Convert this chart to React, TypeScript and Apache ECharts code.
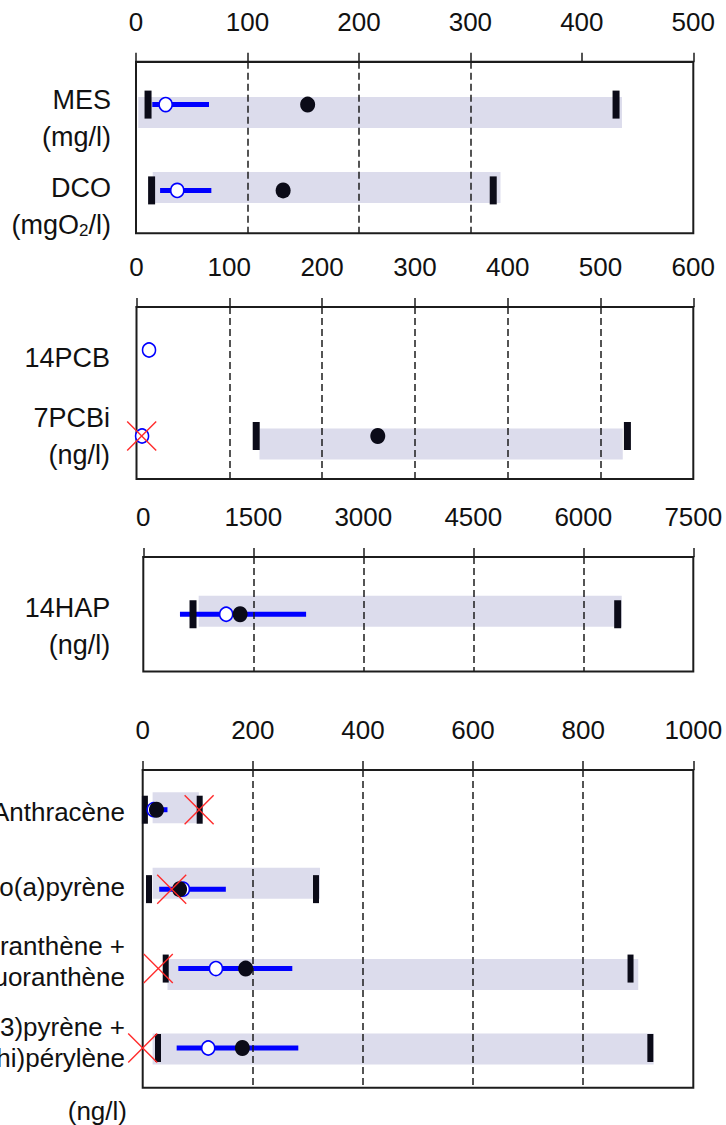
import React, { useEffect, useRef } from "react";
import * as echarts from "echarts";

// ---------------- Panel 1 : MES / DCO (0 – 500) ----------------
const p1Categories = ["MES\n(mg/l)", "DCO\n(mgO_2/l)"];
const p1Ticks = [0, 100, 200, 300, 400, 500];
const p1Dashed = [100, 200, 300];
const p1RangeLow = [2, 15];
const p1RangeHigh = [436, 327];
const p1CapLow = [10.8, 14];
const p1CapHigh = [430.7, 320.5];
const p1BlueLow = [14.6, 21.6];
const p1BlueHigh = [65.5, 67.6];
const p1BlueMedian = [26.6, 37];
const p1Black = [154, 132];
const p1Red: (number | null)[] = [null, null];

// ---------------- Panel 2 : PCB (0 – 600) ----------------
const p2Categories = ["14PCB", "7PCBi\n(ng/l)"];
const p2Ticks = [0, 100, 200, 300, 400, 500, 600];
const p2Dashed = [100, 200, 300, 400, 500];
const p2RangeLow = [null, 132.5];
const p2RangeHigh = [null, 524];
const p2CapLow = [null, 129];
const p2CapHigh = [null, 529];
const p2BlueLow = [null, null];
const p2BlueHigh = [null, null];
const p2BlueMedian = [13.5, 6];
const p2Black = [null, 260];
const p2Red = [null, 5.6];

// ---------------- Panel 3 : 14HAP (0 – 7500) ----------------
const p3Categories = ["14HAP\n(ng/l)"];
const p3Ticks = [0, 1500, 3000, 4500, 6000, 7500];
const p3Dashed = [1500, 3000, 4500, 6000];
const p3RangeLow = [755];
const p3RangeHigh = [6524];
const p3CapLow = [678];
const p3CapHigh = [6469];
const p3BlueLow = [500];
const p3BlueHigh = [2220];
const p3BlueMedian = [1130];
const p3Black = [1320];
const p3Red = [null];

// ---------------- Panel 4 : HAP individuels (0 – 1000) ----------------
const p4Categories = [
  "Anthracène",
  "Benzo(a)pyrène",
  "Benzo(b)fluoranthène +\nBenzo(k)fluoranthène",
  "Indéno(1,2,3)pyrène +\nBenzo(ghi)pérylène",
];
const p4Ticks = [0, 200, 400, 600, 800, 1000];
const p4Dashed = [200, 400, 600, 800];
const p4RangeLow = [18, 18, 45, 18];
const p4RangeHigh = [102, 322, 900, 928];
const p4CapLow = [4, 11.4, 41.8, 27.8];
const p4CapHigh = [103.5, 314.7, 886, 922];
const p4BlueLow = [8, 30, 64.7, 61.7];
const p4BlueHigh = [45, 151, 271.7, 282.6];
const p4BlueMedian = [20, 73, 133, 119];
const p4Black = [25, 67, 187, 181];
const p4Red = [102.5, 52.7, 28.3, 0];

const unitLabel = "(ng/l)";

// ---------------- styling ----------------
const FONT = "'Liberation Sans', Arial, Helvetica, sans-serif";
const INK = "#111111";
const FRAME = "#1c1c1c";
const LAVENDER = "#dcdcec";
const MARK = "#0b0b18";
const BLUE = "#0000ff";
const RED = "#ff2a2a";
const RIGHT_EDGE = 693.3;

const panels = [
  {
    categories: p1Categories, ticks: p1Ticks, dashed: p1Dashed,
    rangeLow: p1RangeLow, rangeHigh: p1RangeHigh, capLow: p1CapLow, capHigh: p1CapHigh,
    blueLow: p1BlueLow, blueHigh: p1BlueHigh, blueMedian: p1BlueMedian, black: p1Black, red: p1Red,
    layout: { left: 136, top: 61.7, bottom: 233.3, labelMargin: 25, labelSize: 27, labelLine: 37,
      labelShift: [14, 16], barShift: [8, -3], capWidth: 7 },
  },
  {
    categories: p2Categories, ticks: p2Ticks, dashed: p2Dashed,
    rangeLow: p2RangeLow, rangeHigh: p2RangeHigh, capLow: p2CapLow, capHigh: p2CapHigh,
    blueLow: p2BlueLow, blueHigh: p2BlueHigh, blueMedian: p2BlueMedian, black: p2Black, red: p2Red,
    layout: { left: 136.5, top: 307, bottom: 479, labelMargin: 26.5, labelSize: 27, labelLine: 37,
      labelShift: [7.7, 0], barShift: [0, 8], capWidth: 7 },
  },
  {
    categories: p3Categories, ticks: p3Ticks, dashed: p3Dashed,
    rangeLow: p3RangeLow, rangeHigh: p3RangeHigh, capLow: p3CapLow, capHigh: p3CapHigh,
    blueLow: p3BlueLow, blueHigh: p3BlueHigh, blueMedian: p3BlueMedian, black: p3Black, red: p3Red,
    layout: { left: 143.3, top: 557, bottom: 671.5, labelMargin: 33, labelSize: 27, labelLine: 37,
      labelShift: [12], barShift: [-3], capWidth: 7 },
  },
  {
    categories: p4Categories, ticks: p4Ticks, dashed: p4Dashed,
    rangeLow: p4RangeLow, rangeHigh: p4RangeHigh, capLow: p4CapLow, capHigh: p4CapHigh,
    blueLow: p4BlueLow, blueHigh: p4BlueHigh, blueMedian: p4BlueMedian, black: p4Black, red: p4Red,
    layout: { left: 142.7, top: 770, bottom: 1087.7, labelMargin: 17.7, labelSize: 26, labelLine: 31,
      labelShift: [2, -2, -7.6, -5], barShift: [-2, -6, 6, 1], capWidth: 6 },
  },
];

function points(arr: (number | null)[]) {
  const out: number[][] = [];
  arr.forEach((v, i) => {
    if (v != null) out.push([v, i]);
  });
  return out;
}

function pairs(lo: (number | null)[], hi: (number | null)[]) {
  const out: number[][] = [];
  lo.forEach((v, i) => {
    const h = hi[i];
    if (v != null && h != null) out.push([v, h, i]);
  });
  return out;
}

function buildOption() {
  const grids: any[] = [];
  const xAxes: any[] = [];
  const yAxes: any[] = [];
  const series: any[] = [];
  const spacerStyles: Record<string, any> = {};

  panels.forEach((p, k) => {
    const L = p.layout;
    grids.push({
      left: L.left,
      top: L.top,
      width: RIGHT_EDGE - L.left,
      height: L.bottom - L.top,
      show: true,
      borderColor: FRAME,
      borderWidth: 2,
      backgroundColor: "transparent",
      containLabel: false,
      outerBoundsMode: "none",
    });
    const step = p.ticks[1] - p.ticks[0];
    xAxes.push({
      type: "value",
      gridIndex: k,
      position: "top",
      min: p.ticks[0],
      max: p.ticks[p.ticks.length - 1],
      interval: step,
      axisLine: { show: true, lineStyle: { color: FRAME, width: 2 } },
      axisTick: { show: true, inside: false, length: 9, lineStyle: { color: FRAME, width: 1.5 } },
      splitLine: { show: false },
      axisLabel: {
        show: true,
        margin: 27,
        fontSize: 26,
        fontFamily: FONT,
        color: INK,
        showMinLabel: true,
        showMaxLabel: true,
        formatter: (v: number) => String(v),
      },
    });

    const rich: Record<string, any> = {
      t: { fontSize: L.labelSize, lineHeight: L.labelLine, fontFamily: FONT, color: INK },
      sub: { fontSize: 17, fontFamily: FONT, color: INK, padding: [12, 0, 0, 0] },
    };
    const shifts = L.labelShift;
    shifts.forEach((s) => {
      const h = Math.round(Math.abs(s) * 2);
      if (h > 0) spacerStyles["sp" + h] = { fontSize: 1, lineHeight: h, color: "transparent" };
    });

    yAxes.push({
      type: "category",
      gridIndex: k,
      data: p.categories,
      inverse: true,
      axisLine: { show: false },
      axisTick: { show: false },
      splitLine: { show: false },
      axisLabel: {
        show: true,
        interval: 0,
        margin: L.labelMargin,
        align: "right",
        fontFamily: FONT,
        fontSize: L.labelSize,
        color: INK,
        formatter: (value: string, idx: number) => {
          const lines = value
            .split("\n")
            .map((l) => "{t|" + l.replace("_2", "}{sub|2}{t|") + "}");
          const s = shifts[idx] || 0;
          const h = Math.round(Math.abs(s) * 2);
          if (h > 0) {
            if (s > 0) lines.unshift("{sp" + h + "| }");
            else lines.push("{sp" + h + "| }");
          }
          return lines.join("\n");
        },
        rich: { ...rich, ...spacerStyles },
      },
    });

    const barShift = L.barShift;
    // lavender range bars
    series.push({
      type: "custom",
      xAxisIndex: k,
      yAxisIndex: k,
      z: 1,
      silent: true,
      data: pairs(p.rangeLow, p.rangeHigh),
      encode: { x: [0, 1], y: 2 },
      renderItem: (params: any, api: any) => {
        const row = api.value(2);
        const a = api.coord([api.value(0), row]);
        const b = api.coord([api.value(1), row]);
        const h = 31;
        return {
          type: "rect",
          shape: { x: a[0], y: a[1] - h / 2 + (barShift[row] || 0), width: b[0] - a[0], height: h },
          style: { fill: LAVENDER },
        };
      },
    });
    // dashed reference lines
    series.push({
      type: "scatter",
      xAxisIndex: k,
      yAxisIndex: k,
      z: 2,
      silent: true,
      symbolSize: 0,
      data: points(p.capLow),
      markLine: {
        silent: true,
        symbol: ["none", "none"],
        label: { show: false },
        lineStyle: { type: [7, 4], color: FRAME, width: 1.5, opacity: 1 },
        data: p.dashed.map((v) => ({ xAxis: v })),
      },
    });
    // blue interval line
    series.push({
      type: "custom",
      xAxisIndex: k,
      yAxisIndex: k,
      z: 3,
      silent: true,
      data: pairs(p.blueLow, p.blueHigh),
      encode: { x: [0, 1], y: 2 },
      renderItem: (params: any, api: any) => {
        const row = api.value(2);
        const a = api.coord([api.value(0), row]);
        const b = api.coord([api.value(1), row]);
        return {
          type: "line",
          shape: { x1: a[0], y1: a[1], x2: b[0], y2: b[1] },
          style: { stroke: BLUE, lineWidth: 5 },
        };
      },
    });
    // black caps (min / max)
    series.push({
      type: "scatter",
      xAxisIndex: k,
      yAxisIndex: k,
      z: 4,
      silent: true,
      symbol: "rect",
      symbolSize: [L.capWidth, 28],
      itemStyle: { color: MARK, opacity: 1 },
      data: [...points(p.capLow), ...points(p.capHigh)],
    });
    // blue open circle
    series.push({
      type: "scatter",
      xAxisIndex: k,
      yAxisIndex: k,
      z: 5,
      silent: true,
      symbol: "circle",
      symbolSize: [13, 14],
      itemStyle: { color: "#ffffff", borderColor: BLUE, borderWidth: 1.6, opacity: 1 },
      data: points(p.blueMedian),
    });
    // black filled dot
    series.push({
      type: "scatter",
      xAxisIndex: k,
      yAxisIndex: k,
      z: 6,
      silent: true,
      symbol: "circle",
      symbolSize: [15, 16],
      itemStyle: { color: MARK, opacity: 1 },
      data: points(p.black),
    });
    // red crosses
    series.push({
      type: "custom",
      xAxisIndex: k,
      yAxisIndex: k,
      z: 7,
      silent: true,
      clip: false,
      data: points(p.red),
      encode: { x: 0, y: 1 },
      renderItem: (params: any, api: any) => {
        const c = api.coord([api.value(0), api.value(1)]);
        const h = 14.5;
        return {
          type: "group",
          children: [
            { type: "line", shape: { x1: c[0] - h, y1: c[1] - h, x2: c[0] + h, y2: c[1] + h }, style: { stroke: RED, lineWidth: 1.4 } },
            { type: "line", shape: { x1: c[0] - h, y1: c[1] + h, x2: c[0] + h, y2: c[1] - h }, style: { stroke: RED, lineWidth: 1.4 } },
          ],
        };
      },
    });
  });

  return {
    animation: false,
    backgroundColor: "#ffffff",
    grid: grids,
    xAxis: xAxes,
    yAxis: yAxes,
    series,
    graphic: [
      {
        type: "text",
        x: 127,
        y: 1111,
        silent: true,
        style: {
          text: unitLabel,
          fontSize: 26,
          fontFamily: FONT,
          fill: INK,
          align: "right",
          verticalAlign: "middle",
        },
      },
    ],
  };
}

export default function App() {
  const ref = useRef<HTMLDivElement>(null);
  useEffect(() => {
    document.body.style.margin = "0";
    if (!ref.current) return;
    const chart = echarts.init(ref.current, undefined, { renderer: "svg" });
    chart.setOption(buildOption() as any);
    return () => chart.dispose();
  }, []);
  return <div ref={ref} style={{ width: 726, height: 1125, background: "#fff" }} />;
}
